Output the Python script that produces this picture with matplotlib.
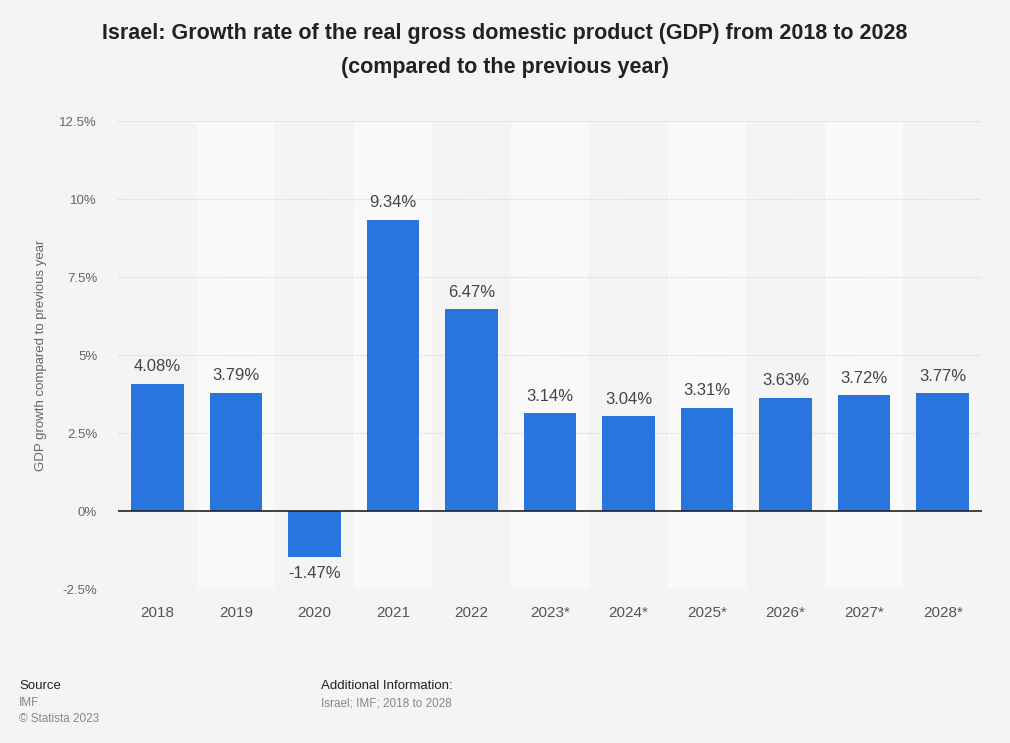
import matplotlib.pyplot as plt
import numpy as np

years = ["2018", "2019", "2020", "2021", "2022", "2023*", "2024*",
         "2025*", "2026*", "2027*", "2028*"]
growth = [4.08, 3.79, -1.47, 9.34, 6.47, 3.14, 3.04, 3.31, 3.63, 3.72, 3.77]
yticks = [-2.5, 0, 2.5, 5, 7.5, 10, 12.5]
ytick_labels = ["-2.5%", "0%", "2.5%", "5%", "7.5%", "10%", "12.5%"]

plt.rcParams["font.family"] = ["Liberation Sans", "DejaVu Sans"]

bg = "#f4f4f4"
fig = plt.figure(figsize=(10.1, 7.43), dpi=100, facecolor=bg)
ax = fig.add_axes([118 / 1010, 1 - 589 / 743, (982 - 118) / 1010, (589 - 121) / 743])
ax.set_facecolor(bg)

x = np.arange(len(years))

# alternating column bands
for i in x:
    if i % 2 == 1:
        ax.axvspan(i - 0.5, i + 0.5, color="#f9f9f9", zorder=0, lw=0)

for yv in yticks:
    if yv != 0:
        ax.axhline(yv, color="#cfcfcf", lw=0.8, ls=(0, (1, 1.5)), zorder=1)

ax.bar(x, growth, width=0.67, color="#2876dd", zorder=2)
ax.axhline(0, color="#222222", lw=1.2, zorder=3)

for xi, v in zip(x, growth):
    if v >= 0:
        ax.text(xi, v + 0.3, f"{v:.2f}%", ha="center", va="bottom",
                fontsize=12, color="#444444")
    else:
        ax.text(xi, v - 0.3, f"{v:.2f}%", ha="center", va="top",
                fontsize=12, color="#444444")

ax.set_xlim(-0.5, len(years) - 0.5)
ax.set_ylim(-2.5, 12.5)
ax.set_xticks(x)
ax.set_xticklabels(years, fontsize=11, color="#555555")
ax.tick_params(axis="x", length=0, pad=12)
ax.set_yticks(yticks)
ax.set_yticklabels(ytick_labels, fontsize=9.5, color="#666666")
ax.tick_params(axis="y", length=0, pad=15)
for s in ax.spines.values():
    s.set_visible(False)
ax.set_ylabel("GDP growth compared to previous year", fontsize=9.5,
              color="#666666", labelpad=9)

fig.text(0.5, 1 - 33 / 743, "Israel: Growth rate of the real gross domestic product (GDP) from 2018 to 2028",
         ha="center", va="center", fontsize=15.5, fontweight="bold", color="#222222")
fig.text(0.5, 1 - 67 / 743, "(compared to the previous year)",
         ha="center", va="center", fontsize=15.5, fontweight="bold", color="#222222")

fig.text(19 / 1010, 1 - 686 / 743, "Source", fontsize=9.5, color="#222222", va="center")
fig.text(19 / 1010, 1 - 703 / 743, "IMF", fontsize=8.5, color="#888888", va="center")
fig.text(19 / 1010, 1 - 719 / 743, "© Statista 2023", fontsize=8.5, color="#888888", va="center")
fig.text(321 / 1010, 1 - 686 / 743, "Additional Information:", fontsize=9.5, color="#222222", va="center")
fig.text(321 / 1010, 1 - 703 / 743, "Israel; IMF; 2018 to 2028", fontsize=8.5, color="#888888", va="center")

fig.savefig("out.png", dpi=100, facecolor=bg)
